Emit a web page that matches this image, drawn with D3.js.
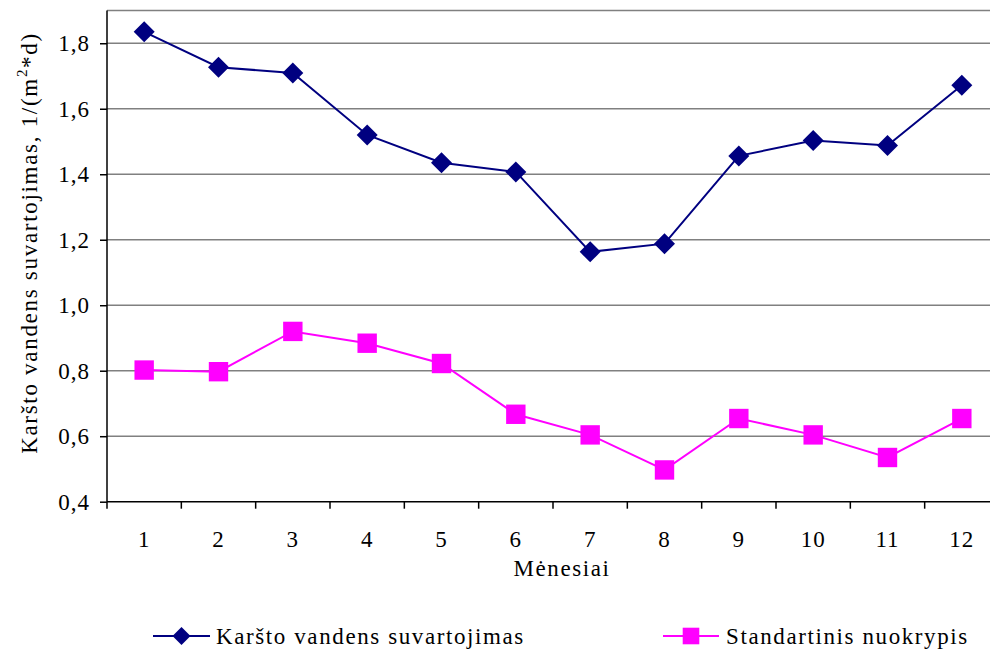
<!DOCTYPE html>
<html>
<head>
<meta charset="utf-8">
<script src="https://cdn.jsdelivr.net/npm/d3@7"></script>
<style>
  html, body { margin: 0; padding: 0; background: #fff; }
  svg { display: block; }
</style>
</head>
<body>
<script>
// Monthly hot water consumption and its standard deviation
const months = [1, 2, 3, 4, 5, 6, 7, 8, 9, 10, 11, 12];
const consumption = [1.835, 1.727, 1.709, 1.52, 1.435, 1.407, 1.163, 1.188, 1.456, 1.503, 1.488, 1.672];
const stdDeviation = [0.802, 0.797, 0.92, 0.884, 0.822, 0.667, 0.604, 0.497, 0.654, 0.604, 0.535, 0.654];
const yTicks = [0.4, 0.6, 0.8, 1.0, 1.2, 1.4, 1.6, 1.8];
const seriesNames = ["Karšto vandens suvartojimas", "Standartinis nuokrypis"];

const W = 990, H = 649;
const plot = { left: 107, right: 999, top: 10.5, bottom: 501.7 };
const FONT = "'Liberation Serif', 'Times New Roman', serif";

const svg = d3.select("body").append("svg")
  .attr("width", W).attr("height", H)
  .style("font-family", FONT);

const x = d3.scaleBand().domain(months).range([plot.left, plot.right]).padding(0);
const y = d3.scaleLinear().domain([0.4, 1.9]).range([plot.bottom, plot.top]);
const fmt = v => d3.format(".1f")(v).replace(".", ",");

const navy = "#000080", magenta = "#ff00ff", grid = "#808080";

// horizontal gridlines, including the top edge of the plot area
svg.append("g").selectAll("line")
  .data(yTicks.slice(1).concat([1.9]))
  .join("line")
  .attr("x1", plot.left).attr("x2", plot.right)
  .attr("y1", d => y(d)).attr("y2", d => y(d))
  .attr("stroke", grid).attr("stroke-width", 1.5);

function styleText(sel, size, spacing) {
  sel.style("font-family", FONT).style("font-size", size + "px")
    .style("letter-spacing", (spacing || 0) + "px").attr("fill", "#000");
}

// y axis
const yAxis = svg.append("g")
  .attr("transform", `translate(${plot.left},0)`)
  .call(d3.axisLeft(y).tickValues(yTicks).tickFormat(fmt).tickSize(7).tickPadding(10));
yAxis.attr("font-family", null);
yAxis.select(".domain").attr("stroke", "#000").attr("stroke-width", 1.5)
  .attr("d", `M0,${plot.top}V${plot.bottom}`);
yAxis.selectAll(".tick line").attr("stroke", "#000").attr("stroke-width", 1.5);
styleText(yAxis.selectAll(".tick text"), 23, 1);

// x axis: labels at category centres, ticks at category boundaries
const xAxis = svg.append("g")
  .attr("transform", `translate(0,${plot.bottom})`)
  .call(d3.axisBottom(x).tickSize(0).tickPadding(29));
xAxis.attr("font-family", null);
xAxis.select(".domain").attr("stroke", "#000").attr("stroke-width", 1.5)
  .attr("d", `M${plot.left},0H${plot.right}`);
styleText(xAxis.selectAll(".tick text"), 23, 1);
xAxis.append("g").selectAll("line")
  .data(months.map(m => x(m)).concat([plot.right]))
  .join("line")
  .attr("x1", d => d).attr("x2", d => d)
  .attr("y1", 0).attr("y2", 7)
  .attr("stroke", "#000").attr("stroke-width", 1.5);

// axis titles
styleText(svg.append("text")
  .attr("x", 562).attr("y", 576)
  .attr("text-anchor", "middle")
  .text("Mėnesiai"), 23, 1.6);

const yTitle = svg.append("text")
  .attr("transform", `translate(37,243) rotate(-90)`)
  .attr("text-anchor", "middle");
styleText(yTitle, 23, 1.7);
yTitle.append("tspan").text("Karšto vandens suvartojimas, 1/(m");
yTitle.append("tspan").attr("dy", -10).style("font-size", "15px").text("2");
yTitle.append("tspan").attr("dy", 10).text("*d)");

// series
const cx = m => x(m) + x.bandwidth() / 2;
const line = d3.line().x(d => cx(d[0])).y(d => y(d[1]));

const blueData = months.map((m, i) => [m, consumption[i]]);
const pinkData = months.map((m, i) => [m, stdDeviation[i]]);

svg.append("path").datum(blueData)
  .attr("d", line).attr("fill", "none").attr("stroke", navy).attr("stroke-width", 2);
svg.append("path").datum(pinkData)
  .attr("d", line).attr("fill", "none").attr("stroke", magenta).attr("stroke-width", 2);

const diamond = (s) => `M0,${-s}L${s},0L0,${s}L${-s},0Z`;
const square = (s) => `M${-s},${-s}H${s}V${s}H${-s}Z`;

svg.append("g").selectAll("path")
  .data(blueData).join("path")
  .attr("transform", d => `translate(${cx(d[0])},${y(d[1])})`)
  .attr("d", diamond(10.5)).attr("fill", navy);

svg.append("g").selectAll("path")
  .data(pinkData).join("path")
  .attr("transform", d => `translate(${cx(d[0])},${y(d[1])})`)
  .attr("d", square(9.7)).attr("fill", magenta);

// legend
const legend = [
  { name: seriesNames[0], color: navy, shape: diamond(9), x0: 153, x1: 210, tx: 216 },
  { name: seriesNames[1], color: magenta, shape: square(8.3), x0: 663, x1: 719, tx: 726 }
];
const lg = svg.append("g").selectAll("g").data(legend).join("g");
lg.append("line")
  .attr("x1", d => d.x0).attr("x2", d => d.x1)
  .attr("y1", 636).attr("y2", 636)
  .attr("stroke", d => d.color).attr("stroke-width", 2);
lg.append("path")
  .attr("transform", d => `translate(${(d.x0 + d.x1) / 2},636)`)
  .attr("d", d => d.shape).attr("fill", d => d.color);
styleText(lg.append("text")
  .attr("x", d => d.tx).attr("y", 644)
  .text(d => d.name), 23, 1.6);
</script>
</body>
</html>
